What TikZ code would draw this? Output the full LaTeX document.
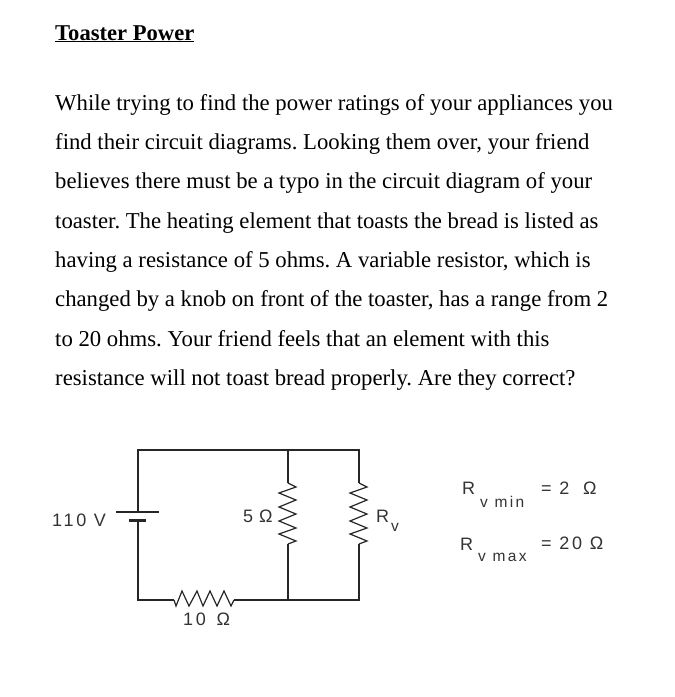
\documentclass[tikz,border=0pt]{standalone}
\usepackage{fontspec}
\setmainfont{Liberation Serif}
\newfontfamily\lblfont[LetterSpace=15]{Liberation Sans}
\usetikzlibrary{calc}
\frenchspacing
\tikzset{
  x=1pt,y=-1pt,
  body/.style={anchor=base west,inner sep=0pt,font=\fontsize{22.72}{26}\selectfont,text=black},
  lbl/.style={anchor=base west,inner sep=0pt,font=\lblfont\fontsize{18}{20}\selectfont,text=black!80},
  sub/.style={anchor=base west,inner sep=0pt,font=\lblfont\fontsize{15.5}{18}\selectfont,text=black!80},
  wire/.style={line width=1.5pt,black!85,line join=miter},
  res/.style={wire,line width=1.2pt},
}
\begin{document}
\begin{tikzpicture}
\useasboundingbox (0,0) rectangle (675,697);
\fill[white] (0,0) rectangle (675,697);
\node[body,font=\bfseries\fontsize{22.6}{26}\selectfont] (title) at (55,40) {\underline{Toaster Power}};
\node[body] (l1) at (55,110) {While trying to find the power ratings of your appliances you};
\node[body] (l2) at (55,149.3) {find their circuit diagrams. Looking them over, your friend};
\node[body] (l3) at (55,188.6) {believes there must be a typo in the circuit diagram of your};
\node[body] (l4) at (55,228) {toaster. The heating element that toasts the bread is listed as};
\node[body] (l5) at (55,267.3) {having a resistance of 5 ohms. A variable resistor, which is};
\node[body] (l6) at (55,306.6) {changed by a knob on front of the toaster, has a range from 2};
\node[body] (l7) at (55,346) {to 20 ohms. Your friend feels that an element with this};
\node[body] (l8) at (55,385.3) {resistance will not toast bread properly. Are they correct?};
% circuit points
\coordinate (tl) at (138,450);
\coordinate (tm) at (288,450);
\coordinate (tr) at (359,450);
\coordinate (bl) at (138,600);
\coordinate (bm) at (288,600);
\coordinate (br) at (359,600);
\coordinate (p1) at (138,512);
\coordinate (p2) at (138,520);
\coordinate (p1a) at (116,512);
\coordinate (p1b) at (159,512);
\coordinate (p2a) at (129,520);
\coordinate (p2b) at (146,520);
\coordinate (r1a) at (288,483);
\coordinate (r1b) at (288,544);
\coordinate (r2a) at (359,483);
\coordinate (r2b) at (359,544);
\coordinate (r3a) at (174,600);
\coordinate (r3b) at (234,600);
\draw[wire] (p1) -- (tl) -- (tr) -- (r2a);
\draw[wire] (tm) -- (r1a);
\draw[wire] (r1b) -- (bm);
\draw[wire] (r2b) -- (br) -- (r3b);
\draw[wire] (r3a) -- (bl) -- (p2);
\draw[wire] (p1a) -- (p1b);
\draw[wire,line width=3pt] (p2a) -- (p2b);
\draw[res,shift={(r1a)}] plot coordinates {(0,0) (8,4) (-9,10) (8,17) (-9,24) (8,31) (-9,38) (8,45) (-9,51) (8,58) (0,61)};
\draw[res,shift={(r2a)}] plot coordinates {(0,0) (8,4) (-9,10) (8,17) (-9,24) (8,31) (-9,38) (8,45) (-9,51) (8,58) (0,61)};
\draw[res,shift={(r3a)}] plot coordinates {(0,0) (2,6) (8,-9) (15,6) (23,-9) (29,6) (36,-9) (43,6) (50,-9) (57,6) (60,0)};
% labels
\node[lbl] (v) at (52,526) {110 V};
\node[lbl] (five) at (243,522) {5\,\,Ω};
\node[lbl] (ten) at (183,625) {10 \,Ω};
\node[lbl] (rv) at (376,522) {R};
\node[sub] (rvs) at (391,531) {v};
\node[lbl] (rmin) at (462,494) {R};
\node[sub] (rmins) at (480,507) {v min};
\node[lbl] (rmineq) at (541,494) {= 2 \,\,Ω};
\node[lbl] (rmax) at (460,550) {R};
\node[sub] (rmaxs) at (478,561) {v max};
\node[lbl] (rmaxeq) at (541,549) {= 20 Ω};
\end{tikzpicture}
\end{document}
